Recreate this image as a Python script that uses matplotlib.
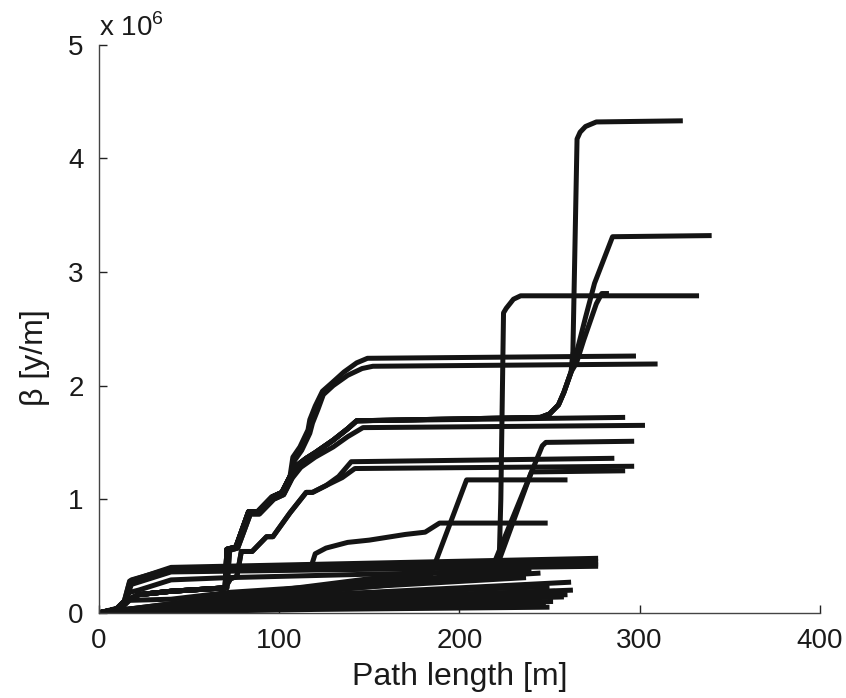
import numpy as np
import matplotlib
matplotlib.use("Agg")
import matplotlib.pyplot as plt

plt.rcParams['font.family'] = ['Liberation Sans', 'DejaVu Sans']

# path length [m] and beta [1e6 y/m] for each flow path
bundle_x = [0, 12, 17, 22, 40, 70, 71, 76, 83, 88, 96, 101.5, 106]
bundle_y = [0, 0.04, 0.12, 0.16, 0.19, 0.22, 0.56, 0.58, 0.89, 0.89, 1.02, 1.06, 1.2]
bundle2_x = [0, 12, 17, 22, 40, 71, 72.5, 77, 84, 89, 97, 102.5, 107]
bundle2_y = [0, 0.04, 0.12, 0.16, 0.19, 0.22, 0.55, 0.57, 0.87, 0.87, 1.0, 1.04, 1.18]

low_x = [0, 12, 17, 22, 40, 70, 73, 76.5, 79, 85, 93, 96.5, 106, 115, 118.5, 126]
low_y = [0, 0.04, 0.12, 0.16, 0.19, 0.22, 0.3, 0.32, 0.54, 0.54, 0.67, 0.67, 0.88, 1.06, 1.06, 1.12]

top22a_x = bundle_x + [107.6, 111.5, 116, 117, 120, 124, 129, 136, 143, 149, 298]
top22a_y = bundle_y + [1.37, 1.46, 1.61, 1.7, 1.82, 1.95, 2.02, 2.12, 2.2, 2.24, 2.26]
top22b_x = bundle2_x + [108.5, 112.5, 117, 118.5, 121.5, 124.5, 130, 138, 146, 152, 310]
top22b_y = bundle2_y + [1.34, 1.43, 1.58, 1.67, 1.79, 1.92, 2.0, 2.09, 2.15, 2.17, 2.19]

l17a_x = bundle_x + [110, 115, 120, 130, 138, 143, 292]
l17a_y = bundle_y + [1.3, 1.36, 1.41, 1.52, 1.62, 1.69, 1.72]
l17b_x = bundle2_x + [112, 120, 130, 138, 146.5, 303]
l17b_y = bundle2_y + [1.28, 1.37, 1.46, 1.55, 1.63, 1.65]

rise_x = bundle_x + [110, 115, 120, 130, 138, 143, 245, 250, 255, 258, 262]
rise_y = bundle_y + [1.3, 1.36, 1.41, 1.52, 1.62, 1.69, 1.72, 1.75, 1.83, 1.94, 2.12]
c43_x = rise_x + [263, 265.3, 267, 270, 276, 324]
c43_y = rise_y + [2.3, 4.17, 4.23, 4.28, 4.32, 4.33]
c33_x = rise_x + [266, 270, 275, 285, 340]
c33_y = rise_y + [2.35, 2.6, 2.9, 3.31, 3.32]
c28_x = rise_x + [265, 269, 276, 279, 283]
c28_y = rise_y + [2.2, 2.4, 2.72, 2.81, 2.81]

l135_x = low_x + [133, 140, 286]
l135_y = low_y + [1.2, 1.33, 1.36]
l129_x = low_x + [135, 142, 297]
l129_y = low_y + [1.19, 1.27, 1.29]

c278_x = [0, 15, 40, 100, 150, 222, 223, 224.5, 226, 230, 234, 333]
c278_y = [0, 0.03, 0.08, 0.2, 0.3, 0.4, 1.0, 2.64, 2.68, 2.76, 2.79, 2.79]
c15_x = [0, 20, 50, 120, 217, 246, 248, 297]
c15_y = [0, 0.03, 0.1, 0.22, 0.35, 1.47, 1.5, 1.51]
c125_x = [0, 25, 60, 130, 219, 240, 292]
c125_y = [0, 0.03, 0.09, 0.2, 0.33, 1.24, 1.25]
c117_x = [0, 20, 40, 80, 150, 184, 204, 260]
c117_y = [0, 0.04, 0.08, 0.16, 0.27, 0.33, 1.17, 1.17]
c08_x = [0, 10, 15, 18, 40, 118, 120, 126, 138, 150, 170, 181, 189, 249]
c08_y = [0, 0.04, 0.12, 0.29, 0.39, 0.42, 0.52, 0.57, 0.62, 0.64, 0.69, 0.71, 0.79, 0.79]

bottom_x = [
    [0, 5, 10, 14, 17, 21, 40, 277],
    [0, 5, 10, 14, 17, 21, 40, 277],
    [0, 10, 15, 18, 40, 277],
    [0, 10, 15, 18, 40, 277],
    [0, 12, 17, 22, 40, 72, 150, 240],
    [0, 12, 17, 40, 72, 150, 245],
    [0, 15, 40, 80, 160, 237],
    [0, 15, 40, 100, 200, 262],
    [0, 20, 40, 100, 250],
    [0, 20, 50, 120, 253],
    [0, 20, 50, 130, 263],
    [0, 25, 60, 150, 260],
    [0, 25, 70, 150, 258],
    [0, 30, 80, 180, 252],
    [0, 30, 100, 248],
    [0, 40, 120, 240],
    [0, 40, 120, 250],
]
bottom_y = [
    [0, 0.01, 0.04, 0.1, 0.28, 0.3, 0.4, 0.48],
    [0, 0.01, 0.04, 0.1, 0.27, 0.29, 0.39, 0.45],
    [0, 0.03, 0.12, 0.27, 0.37, 0.43],
    [0, 0.03, 0.12, 0.25, 0.36, 0.41],
    [0, 0.04, 0.18, 0.2, 0.29, 0.31, 0.34, 0.37],
    [0, 0.04, 0.11, 0.12, 0.18, 0.26, 0.35],
    [0, 0.03, 0.07, 0.15, 0.24, 0.31],
    [0, 0.03, 0.06, 0.14, 0.22, 0.27],
    [0, 0.03, 0.06, 0.15, 0.23],
    [0, 0.02, 0.06, 0.13, 0.19],
    [0, 0.02, 0.05, 0.12, 0.2],
    [0, 0.02, 0.05, 0.11, 0.16],
    [0, 0.02, 0.05, 0.1, 0.14],
    [0, 0.02, 0.05, 0.09, 0.1],
    [0, 0.01, 0.04, 0.07],
    [0, 0.01, 0.05, 0.12],
    [0, 0.01, 0.03, 0.05],
]

paths = [
    (top22a_x, top22a_y), (top22b_x, top22b_y),
    (l17a_x, l17a_y), (l17b_x, l17b_y),
    (c43_x, c43_y), (c33_x, c33_y), (c28_x, c28_y),
    (l135_x, l135_y), (l129_x, l129_y),
    (c278_x, c278_y), (c15_x, c15_y), (c125_x, c125_y),
    (c117_x, c117_y), (c08_x, c08_y),
] + list(zip(bottom_x, bottom_y))

fig = plt.figure(figsize=(8.46, 6.98), dpi=100)
ax = fig.add_axes([0.117, 0.122, 0.852, 0.814])

for px, py in paths:
    ax.plot(px, np.array(py) * 1e6, color='#141414', lw=3.6,
            solid_joinstyle='round', solid_capstyle='butt')

ax.set_xlim(0, 400)
ax.set_ylim(0, 5e6)
ax.set_xticks([0, 100, 200, 300, 400])
ax.set_yticks(np.arange(0, 6) * 1e6)
ax.set_yticklabels([str(i) for i in range(6)])
for s in ['top', 'right']:
    ax.spines[s].set_visible(False)
for s in ['left', 'bottom']:
    ax.spines[s].set_color('#444444')
    ax.spines[s].set_linewidth(1.0)
ax.tick_params(direction='in', length=5.5, width=1.0, color='#222222',
               labelsize=20, pad=11, labelcolor='#1a1a1a')

ax.set_xlabel('Path length [m]', fontsize=23, labelpad=6, color='#1a1a1a')
ax.set_ylabel('β [y/m]', fontsize=23, color='#1a1a1a')
ax.yaxis.set_label_coords(-0.068, 0.45)
ax.text(0, 1.004, r'x 10$^{\mathregular{6}}$', transform=ax.transAxes,
        fontsize=20, ha='left', va='bottom', color='#1a1a1a')

fig.savefig('out.png', dpi=100)
